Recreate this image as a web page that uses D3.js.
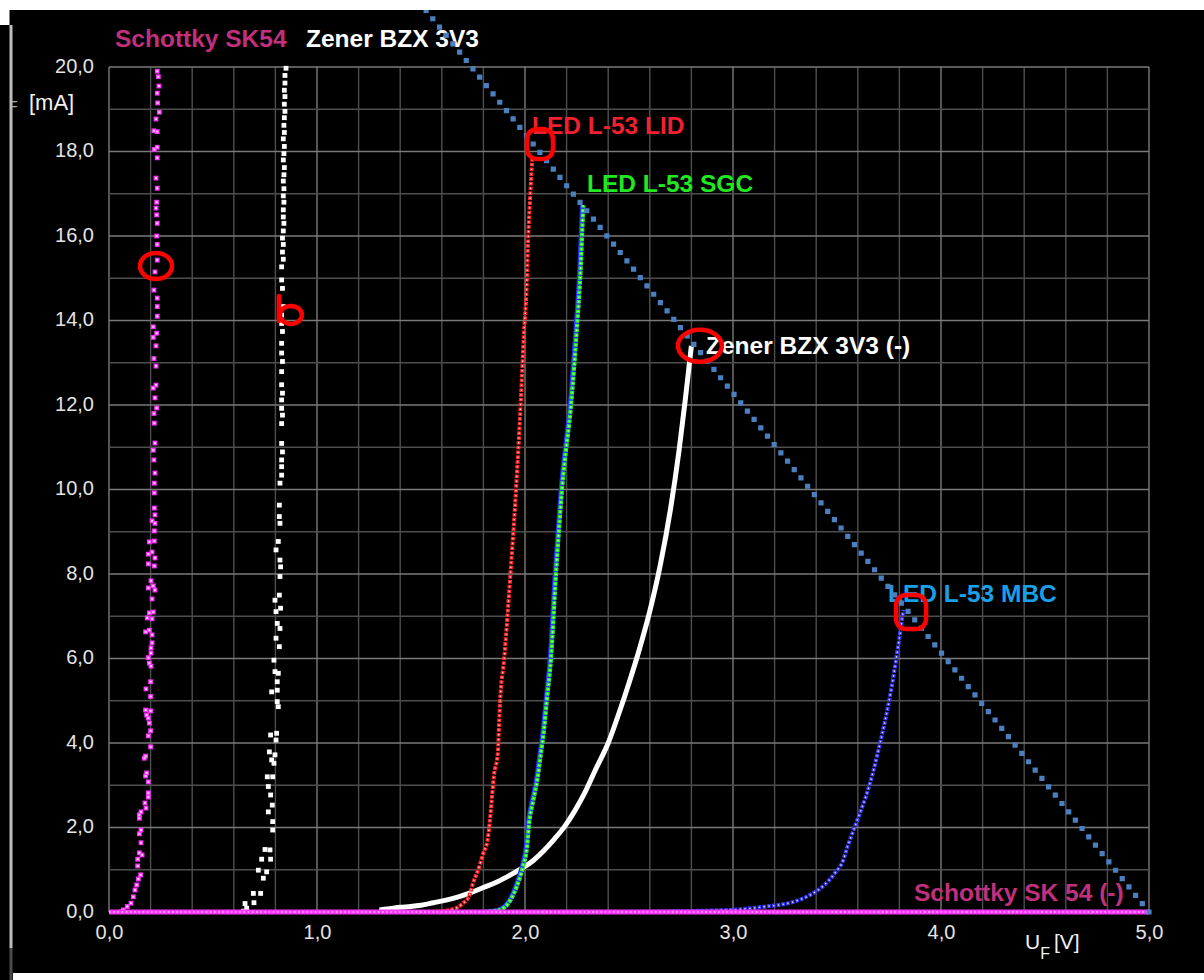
<html>
<head>
<meta charset="UTF-8">
<script src="https://d3js.org/d3.v7.min.js"></script>
<style>
  body { margin: 0; background: #000; }
  svg { display: block; }
  text { font-family: 'Liberation Sans', Arial, sans-serif; }
</style>
</head>
<body>
<script>
// ---- data (U in V, I in mA) ----
var xTickValues = [0, 1, 2, 3, 4, 5];
var yTickValues = [0, 2, 4, 6, 8, 10, 12, 14, 16, 18, 20];

// Schottky SK54 forward (scatter)
var schottkyFwd = [[0.058,0.01],[0.069,0.05],[0.088,0.13],[0.106,0.21],[0.117,0.36],[0.125,0.52],[0.133,0.64],[0.141,0.78],[0.152,0.88],[0.138,1.09],[0.138,1.25],[0.159,1.35],[0.146,1.40],[0.154,1.64],[0.146,1.85],[0.154,1.94],[0.146,2.22],[0.146,2.30],[0.154,2.37],[0.178,2.46],[0.173,2.58],[0.189,2.72],[0.189,2.82],[0.189,3.08],[0.176,3.22],[0.181,3.29],[0.170,3.64],[0.176,3.69],[0.200,3.91],[0.189,4.17],[0.200,4.29],[0.194,4.47],[0.189,4.59],[0.181,4.66],[0.200,4.76],[0.176,4.78],[0.200,5.10],[0.178,5.28],[0.200,5.45],[0.202,5.82],[0.194,5.89],[0.189,6.02],[0.202,6.13],[0.202,6.25],[0.207,6.37],[0.207,6.56],[0.194,6.67],[0.176,6.63],[0.207,6.94],[0.184,6.96],[0.213,7.10],[0.194,7.08],[0.207,7.41],[0.221,7.62],[0.189,7.67],[0.213,7.72],[0.202,7.84],[0.189,8.24],[0.218,8.19],[0.221,8.38],[0.207,8.52],[0.189,8.47],[0.218,8.78],[0.194,8.76],[0.218,9.02],[0.221,9.20],[0.207,9.26],[0.221,9.40],[0.218,9.56],[0.218,9.92],[0.218,10.15],[0.221,10.39],[0.216,10.70],[0.213,10.93],[0.221,11.10],[0.218,11.57],[0.216,11.80],[0.229,11.93],[0.221,12.17],[0.213,12.40],[0.226,12.47],[0.226,12.92],[0.216,13.10],[0.226,13.40],[0.213,13.60],[0.229,13.70],[0.213,13.85],[0.232,14.10],[0.232,14.33],[0.232,14.53],[0.216,14.72],[0.221,15.15],[0.232,15.43],[0.232,15.80],[0.229,16.00],[0.232,16.30],[0.229,16.50],[0.226,16.66],[0.229,16.80],[0.232,17.13],[0.226,17.37],[0.232,17.85],[0.232,18.10],[0.218,18.05],[0.232,18.47],[0.216,18.49],[0.226,18.77],[0.242,18.93],[0.234,19.15],[0.232,19.38],[0.240,19.55],[0.237,19.77],[0.232,19.90]];

// Schottky SK 54 reverse: flat along zero
var schottkyRev = [[0.0,0],[1.0,0],[2.0,0],[3.0,0],[4.0,0],[5.0,0]];

// Zener BZX 3V3 forward (scatter)
var zenerFwd = [[0.646,0.02],[0.654,0.20],[0.662,0.09],[0.694,0.44],[0.729,0.44],[0.697,0.22],[0.718,0.99],[0.758,0.95],[0.742,0.80],[0.750,1.48],[0.774,1.47],[0.734,1.25],[0.777,1.25],[0.787,1.94],[0.787,2.14],[0.766,2.37],[0.785,2.53],[0.777,2.77],[0.766,2.97],[0.761,3.20],[0.787,3.20],[0.793,3.52],[0.782,3.60],[0.798,3.72],[0.771,3.79],[0.803,4.07],[0.806,4.23],[0.777,4.19],[0.814,4.86],[0.809,4.98],[0.782,5.21],[0.809,5.25],[0.809,5.45],[0.814,5.65],[0.798,5.69],[0.793,5.96],[0.819,6.28],[0.803,6.48],[0.822,6.71],[0.809,6.83],[0.803,7.11],[0.825,7.19],[0.798,7.38],[0.819,7.50],[0.822,7.94],[0.825,8.17],[0.822,8.33],[0.803,8.57],[0.814,8.77],[0.822,9.20],[0.819,9.36],[0.819,9.63],[0.822,10.15],[0.830,10.34],[0.830,10.54],[0.830,10.70],[0.834,10.89],[0.830,11.09],[0.830,11.56],[0.834,11.76],[0.830,11.92],[0.830,12.12],[0.834,12.28],[0.830,12.48],[0.830,12.79],[0.834,13.03],[0.830,13.23],[0.830,13.46],[0.834,13.74],[0.830,13.93],[0.830,14.13],[0.838,14.33],[0.834,14.76],[0.830,14.96],[0.830,15.27],[0.838,15.45],[0.834,15.62],[0.838,15.80],[0.834,15.95],[0.838,16.12],[0.841,16.30],[0.838,16.45],[0.838,16.62],[0.841,16.80],[0.838,16.95],[0.841,17.12],[0.838,17.30],[0.841,17.45],[0.843,17.62],[0.838,17.80],[0.841,17.95],[0.843,18.12],[0.838,18.30],[0.843,18.45],[0.841,18.62],[0.843,18.80],[0.846,18.95],[0.843,19.12],[0.846,19.30],[0.843,19.45],[0.846,19.62],[0.846,19.80],[0.851,19.97]];

// Zener BZX 3V3 reverse
var zenerRev = [[1.30,0.05],[1.35,0.08],[1.40,0.11],[1.45,0.13],[1.50,0.16],[1.56,0.22],[1.62,0.28],[1.68,0.36],[1.74,0.46],[1.80,0.58],[1.86,0.70],[1.92,0.85],[1.98,1.02],[2.04,1.22],[2.09,1.45],[2.14,1.72],[2.19,2.02],[2.24,2.40],[2.29,2.85],[2.34,3.38],[2.40,4.00],[2.45,4.68],[2.50,5.42],[2.55,6.22],[2.60,7.12],[2.65,8.20],[2.70,9.55],[2.74,10.9],[2.77,12.1],[2.80,13.4]];

// LED L-53 LID (red)
var ledLID = [[1.55,0.0],[1.60,0.02],[1.64,0.05],[1.68,0.12],[1.70,0.20],[1.73,0.36],[1.75,0.68],[1.78,1.07],[1.80,1.40],[1.82,1.70],[1.83,2.10],[1.84,2.65],[1.85,3.20],[1.87,3.80],[1.875,4.40],[1.88,4.95],[1.90,6.0],[1.93,8.0],[1.957,10.0],[1.98,12.1],[1.995,13.7],[2.008,14.8],[2.015,15.9],[2.024,16.85],[2.035,17.85]];

// LED L-53 SGC (green)
var ledSGC = [[1.80,0.0],[1.85,0.02],[1.88,0.05],[1.93,0.28],[1.96,0.60],[1.99,1.07],[2.01,1.55],[2.02,2.10],[2.04,2.65],[2.06,3.15],[2.075,3.70],[2.09,4.25],[2.105,5.0],[2.125,6.0],[2.149,8.0],[2.178,10.0],[2.225,12.2],[2.248,13.7],[2.268,15.27],[2.28,16.73]];

// LED L-53 MBC (blue)
var ledMBC = [[2.45,0.0],[2.99,0.05],[3.14,0.12],[3.29,0.24],[3.37,0.40],[3.43,0.60],[3.49,0.92],[3.53,1.23],[3.55,1.54],[3.58,1.94],[3.61,2.34],[3.64,2.75],[3.67,3.25],[3.70,3.85],[3.73,4.50],[3.76,5.25],[3.785,6.0],[3.805,6.65],[3.819,7.15]];

// load line 5 V / 163 Ohm
var loadLine = [[5.0, 0], [0.0, 30.7]];

// hand drawn red marks (centres)
var marks = [[0.226,15.29],[0.865,14.18],[2.072,18.18],[2.841,13.40],[3.856,7.10]];

var labelTexts = ["Schottky SK54", "Zener BZX 3V3", "LED L-53 LID", "LED L-53 SGC", "Zener BZX 3V3 (-)", "LED L-53 MBC", "Schottky SK 54 (-)"];
var labelColors = ["#c0307c", "#ffffff", "#f02030", "#22e822", "#ffffff", "#1aa0e8", "#c0307c"];

// ---- drawing ----
var W = 1204, H = 980;
var svg = d3.select("body").append("svg").attr("width", W).attr("height", H);
svg.append("rect").attr("width", W).attr("height", H).attr("fill", "#000");

var x = d3.scaleLinear().domain([0, 5]).range([109, 1149]);
var y = d3.scaleLinear().domain([0, 20]).range([912, 67]);

var fmt = d3.formatLocale({decimal: ",", thousands: ".", grouping: [3], currency: ["", ""]}).format(".1f");

// grid
var grid = svg.append("g");
x.ticks(25).forEach(function(v) {
  var major = Math.abs(v - Math.round(v)) < 1e-6;
  grid.append("line").attr("x1", x(v)).attr("x2", x(v)).attr("y1", y(0)).attr("y2", y(20))
    .attr("stroke", major ? "#7a7a7a" : "#4e4e4e").attr("stroke-width", 1.4);
});
y.ticks(20).forEach(function(v) {
  var major = v % 2 === 0;
  grid.append("line").attr("y1", y(v)).attr("y2", y(v)).attr("x1", x(0)).attr("x2", x(5))
    .attr("stroke", major ? "#7a7a7a" : "#4e4e4e").attr("stroke-width", 1.4);
});

// axes
var yAxis = svg.append("g").attr("transform", "translate(" + x(0) + ",0)")
  .call(d3.axisLeft(y).tickValues(yTickValues).tickFormat(fmt).tickSize(0).tickPadding(15));
var xAxis = svg.append("g").attr("transform", "translate(0," + y(0) + ")")
  .call(d3.axisBottom(x).tickValues(xTickValues).tickFormat(fmt).tickSize(0).tickPadding(13));
[yAxis, xAxis].forEach(function(a) {
  a.select(".domain").remove();
  a.selectAll("text").attr("fill", "#e4e4e4").style("font-size", "20px")
    .style("font-family", "'Liberation Sans', Arial, sans-serif");
});
yAxis.selectAll("text").attr("dy", "0.26em");

// axis titles
svg.append("text").attr("x", 9).attr("y", 111).attr("fill", "#aaa").style("font-size", "14px").text("F");
svg.append("text").attr("x", 29).attr("y", 110).attr("fill", "#f2f2f2").style("font-size", "22px").text("[mA]");
var ut = svg.append("text").attr("x", 1025).attr("y", 949).attr("fill", "#f2f2f2").style("font-size", "21px");
ut.append("tspan").text("U");
ut.append("tspan").attr("dy", 10).style("font-size", "16px").text("F");
ut.append("tspan").attr("dy", -10).attr("dx", 4).text("[V]");

var line = d3.line().x(function(d) { return x(d[0]); }).y(function(d) { return y(d[1]); })
  .curve(d3.curveMonotoneX);

// dotted curve: coloured dashes with a light centre
function dotted(data, color, centre, w) {
  svg.append("path").datum(data).attr("d", line).attr("fill", "none")
    .attr("stroke", color).attr("stroke-width", w).attr("stroke-dasharray", "3.6 1.2");
  svg.append("path").datum(data).attr("d", line).attr("fill", "none")
    .attr("stroke", centre).attr("stroke-width", 1.3).attr("stroke-dasharray", "1.4 3.4")
    .attr("stroke-dashoffset", -1.1);
}

function scatter(data, color, centre) {
  var g = svg.append("g");
  g.selectAll("rect.o").data(data).join("rect").attr("class", "o")
    .attr("x", function(d) { return x(d[0]) - 2.4; }).attr("y", function(d) { return y(d[1]) - 2.4; })
    .attr("width", 4.8).attr("height", 4.8).attr("fill", color);
  g.selectAll("rect.c").data(data).join("rect").attr("class", "c")
    .attr("x", function(d) { return x(d[0]) - 1; }).attr("y", function(d) { return y(d[1]) - 1; })
    .attr("width", 2).attr("height", 2).attr("fill", centre);
}

svg.append("path").datum(zenerRev).attr("d", line).attr("fill", "none")
  .attr("stroke", "#ffffff").attr("stroke-width", 5);
dotted(ledLID, "#ff2424", "#ffd0d0", 4);
svg.append("path").datum(ledSGC).attr("d", line).attr("fill", "none")
  .attr("stroke", "#2a2aff").attr("stroke-width", 5).attr("transform", "translate(-0.8,0)");
dotted(ledSGC, "#22f022", "#d0ffd0", 4.2);
dotted(ledMBC, "#3a3aff", "#e0e0ff", 4);
scatter(zenerFwd, "#ffffff", "#ffffff");
scatter(schottkyFwd, "#ff33ff", "#ffd4ff");

// reverse schottky along the zero line
svg.append("path").datum(schottkyRev).attr("d", line).attr("fill", "none")
  .attr("stroke", "#ff33ff").attr("stroke-width", 5);
svg.append("path").datum(schottkyRev).attr("d", line).attr("fill", "none")
  .attr("stroke", "#ffc8ff").attr("stroke-width", 1.4).attr("stroke-dasharray", "1.6 2.6");

// labels
var labelPos = [[115, 47], [306, 47], [532, 134], [587, 192], [706, 354], [888, 602], [914, 901]];
labelTexts.forEach(function(t, i) {
  svg.append("text").attr("x", labelPos[i][0]).attr("y", labelPos[i][1])
    .attr("fill", labelColors[i]).style("font-size", "24.5px").style("font-weight", "bold").text(t);
});

// load line, dotted
svg.append("path").datum(loadLine).attr("d", d3.line().x(function(d) { return x(d[0]); }).y(function(d) { return y(d[1]); }))
  .attr("fill", "none").attr("stroke", "#4a7fc0").attr("stroke-width", 5.2)
  .attr("stroke-linecap", "square").attr("stroke-dasharray", "0 10.7");

// red hand marks
var mk = svg.append("g").attr("fill", "none").attr("stroke", "#ff0000").attr("stroke-width", 4.5)
  .attr("stroke-linecap", "round").attr("stroke-linejoin", "round");
mk.append("ellipse").attr("cx", x(marks[0][0])).attr("cy", y(marks[0][1])).attr("rx", 16).attr("ry", 13);
mk.append("ellipse").attr("cx", x(marks[1][0]) + 2).attr("cy", y(marks[1][1]) + 2).attr("rx", 11).attr("ry", 9);
mk.append("line").attr("x1", x(marks[1][0]) - 10).attr("x2", x(marks[1][0]) - 10)
  .attr("y1", y(marks[1][1]) - 17).attr("y2", y(marks[1][1]) + 8);
mk.append("rect").attr("x", x(marks[2][0]) - 13).attr("y", y(marks[2][1]) - 15)
  .attr("width", 26).attr("height", 30).attr("rx", 10);
mk.append("ellipse").attr("cx", x(marks[3][0])).attr("cy", y(marks[3][1])).attr("rx", 22).attr("ry", 16);
mk.append("rect").attr("x", x(marks[4][0]) - 15).attr("y", y(marks[4][1]) - 17)
  .attr("width", 30).attr("height", 34).attr("rx", 10);

// window frame bits
svg.append("rect").attr("x", 0).attr("y", 0).attr("width", W).attr("height", 10).attr("fill", "#fff");
svg.append("rect").attr("x", 0).attr("y", 0).attr("width", 9.5).attr("height", 25).attr("fill", "#fff");
svg.append("rect").attr("x", 0).attr("y", 25).attr("width", 9.5).attr("height", H - 25).attr("fill", "#000");
svg.append("rect").attr("x", 9.5).attr("y", 25).attr("width", 3).attr("height", 923).attr("fill", "#bdbdbd");
svg.append("rect").attr("x", 9.5).attr("y", 948).attr("width", 3).attr("height", 32).attr("fill", "#4a4a4a");
svg.append("rect").attr("x", 13).attr("y", 973).attr("width", W - 13).attr("height", 7).attr("fill", "#fff");
</script>
</body>
</html>
